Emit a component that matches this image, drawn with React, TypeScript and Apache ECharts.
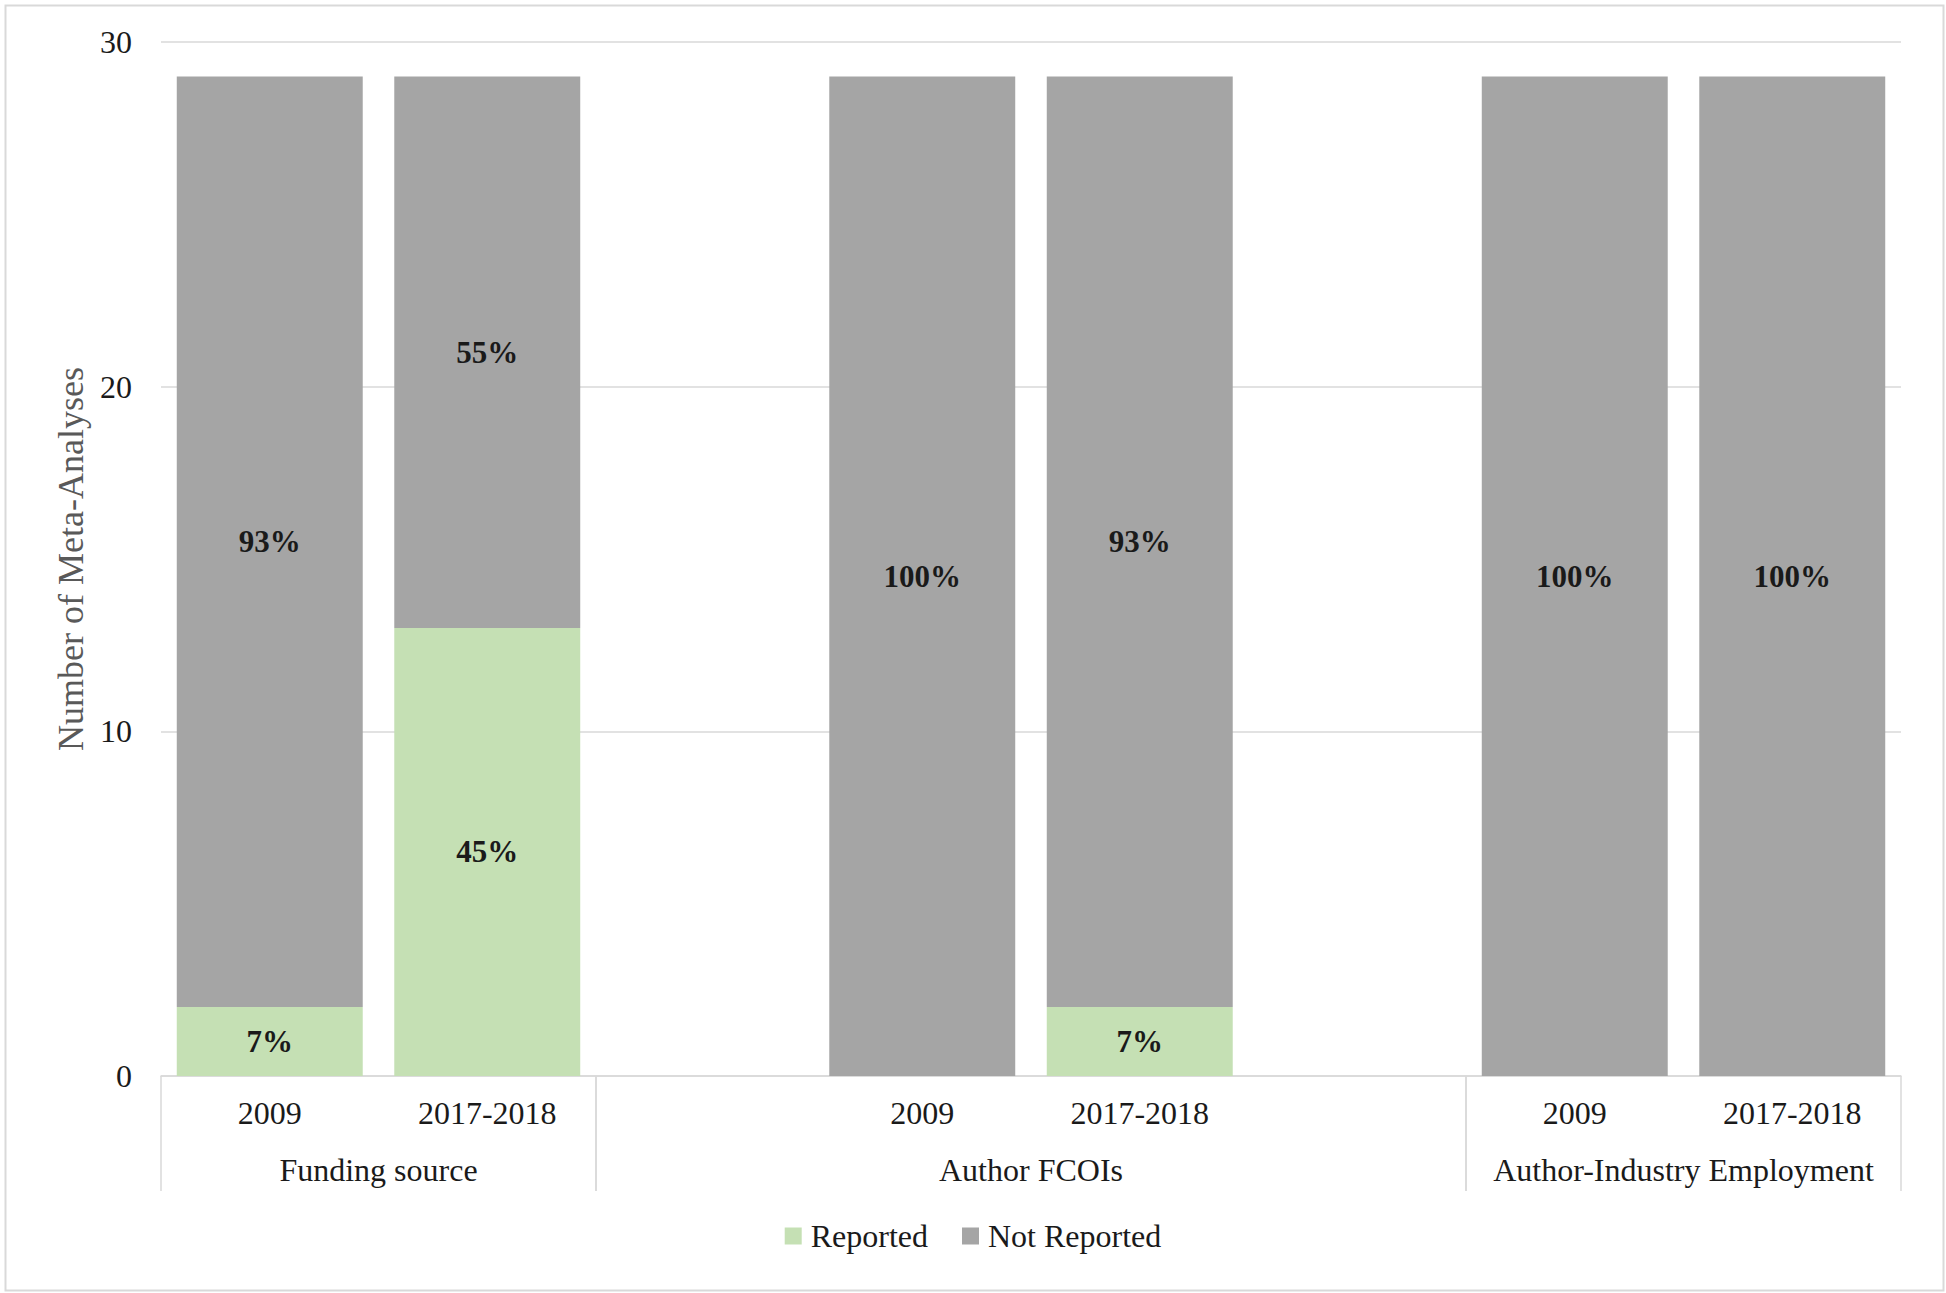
import React, { useEffect, useRef } from "react";
import * as echarts from "echarts";

const slotKeys = ["fs-2009", "fs-2017", "fc-gap1", "fc-2009", "fc-2017", "fc-gap2", "ai-2009", "ai-2017"];
const slotLabels = ["2009", "2017-2018", "", "2009", "2017-2018", "", "2009", "2017-2018"];
const reported = [2, 13, null, 0, 2, null, 0, 0];
const notReported = [27, 16, null, 29, 27, null, 29, 29];
const groupNames = ["Funding source", "Author FCOIs", "Author-Industry Employment"];
const groupSpans = [
  [0, 1],
  [2, 5],
  [6, 7],
];
const yTicks = { min: 0, max: 30, interval: 10 };

const FONT = "'Liberation Serif', 'Times New Roman', serif";

export default function App() {
  const ref = useRef<HTMLDivElement>(null);
  useEffect(() => {
    if (!ref.current) return;
    const chart = echarts.init(ref.current, undefined, { renderer: "svg" });
    const totals = reported.map((r, i) => (r ?? 0) + (notReported[i] ?? 0));
    const pct = (p: any) => {
      const v = p.value;
      if (v == null || v === 0) return "";
      return Math.round((v / totals[p.dataIndex]) * 100) + "%";
    };
    const labelStyle = {
      show: true,
      position: "inside",
      formatter: pct,
      fontFamily: FONT,
      fontWeight: "bold",
      fontSize: 31,
      color: "#1a1a1a",
    };
    chart.setOption({
      animation: false,
      backgroundColor: "#fff",
      textStyle: { fontFamily: FONT },
      grid: { left: 161, right: 45, top: 42, bottom: 217, containLabel: false },
      legend: {
        data: ["Reported", "Not Reported"],
        bottom: 36,
        left: "center",
        icon: "rect",
        itemWidth: 17,
        itemHeight: 17,
        itemGap: 34,
        textStyle: { fontFamily: FONT, fontSize: 32, color: "#1a1a1a", padding: [0, 0, 0, 4] },
      },
      xAxis: {
        type: "category",
        data: slotKeys,
        axisLine: { show: true, lineStyle: { color: "#d9d9d9", width: 1.5 } },
        axisTick: { show: false },
        axisLabel: {
          interval: 0,
          margin: 21,
          fontFamily: FONT,
          fontSize: 32,
          color: "#1a1a1a",
          formatter: (_v: string, i: number) => slotLabels[i],
        },
      },
      yAxis: {
        type: "value",
        min: yTicks.min,
        max: yTicks.max,
        interval: yTicks.interval,
        name: "Number of Meta-Analyses",
        nameLocation: "middle",
        nameGap: 72,
        nameTextStyle: { fontFamily: FONT, fontSize: 36, color: "#595959" },
        axisLine: { show: false },
        axisTick: { show: false },
        axisLabel: { margin: 29, fontFamily: FONT, fontSize: 32, color: "#1a1a1a" },
        splitLine: { lineStyle: { color: "#d9d9d9", width: 1.5 } },
      },
      series: [
        {
          name: "Reported",
          type: "bar",
          stack: "total",
          barWidth: "85.5%",
          data: reported,
          itemStyle: { color: "#c5e0b4" },
          label: labelStyle,
        },
        {
          name: "Not Reported",
          type: "bar",
          stack: "total",
          barWidth: "85.5%",
          data: notReported,
          itemStyle: { color: "#a5a5a5" },
          label: labelStyle,
        },
        {
          type: "custom",
          name: "groups",
          silent: true,
          clip: false,
          z: 5,
          dimensions: ["start", "end", "y"],
          encode: { x: ["start", "end"], y: "y" },
          data: groupSpans.map((s) => [s[0], s[1], 0]),
          renderItem: (params: any, api: any) => {
            const half = api.size([1, 0])[0] / 2;
            const p0 = api.coord([api.value(0), 0]);
            const p1 = api.coord([api.value(1), 0]);
            const x0 = p0[0] - half;
            const x1 = p1[0] + half;
            const y0 = p0[1];
            const lineStyle = { stroke: "#d9d9d9", lineWidth: 1.5 };
            return {
              type: "group",
              children: [
                { type: "line", shape: { x1: x0, y1: y0, x2: x0, y2: y0 + 115 }, style: lineStyle },
                { type: "line", shape: { x1: x1, y1: y0, x2: x1, y2: y0 + 115 }, style: lineStyle },
                {
                  type: "text",
                  x: (x0 + x1) / 2,
                  y: y0 + 94,
                  style: {
                    text: groupNames[params.dataIndex],
                    fontFamily: FONT,
                    fontSize: 32,
                    fill: "#1a1a1a",
                    align: "center",
                    verticalAlign: "middle",
                  },
                },
              ],
            };
          },
        },
      ],
      graphic: [
        {
          type: "rect",
          left: 3,
          top: 3,
          shape: { width: 1938, height: 1285 },
          style: { fill: "none", stroke: "#d9d9d9", lineWidth: 2 },
          silent: true,
        },
      ],
    });
    return () => chart.dispose();
  }, []);
  return (
    <div
      ref={ref}
      style={{ position: "fixed", left: 0, top: 0, width: 1946, height: 1293, background: "#fff" }}
    />
  );
}
